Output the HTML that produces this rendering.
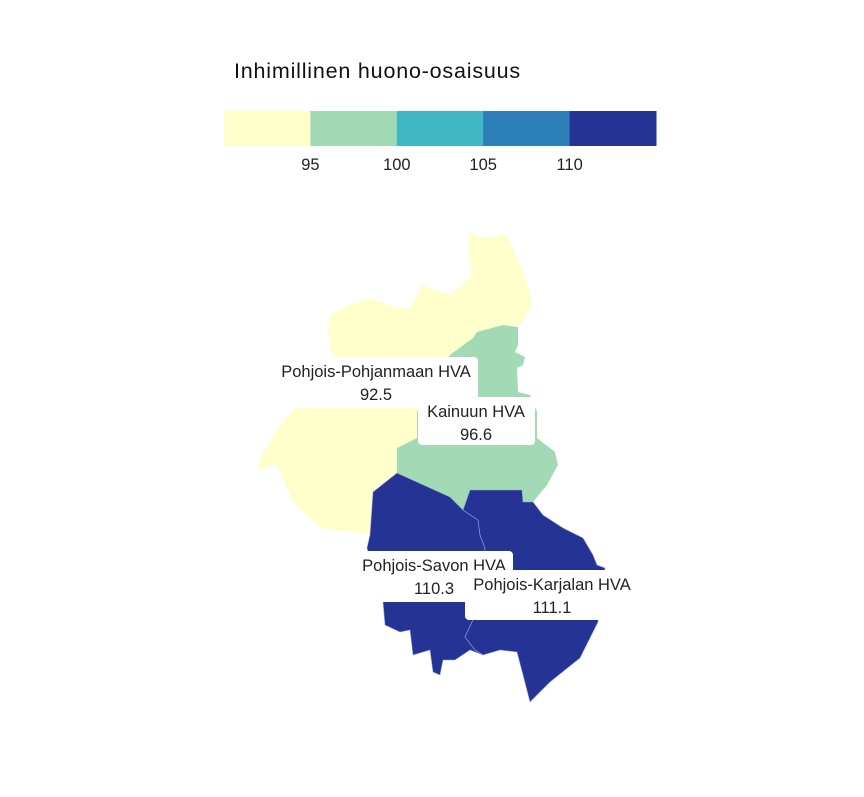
<!DOCTYPE html>
<html><head><meta charset="utf-8"><style>
body{margin:0;background:#fff;font-family:"Liberation Sans",sans-serif}
</style></head><body>
<svg width="864" height="792" viewBox="0 0 864 792">
<text x="234" y="78" font-size="21.5" letter-spacing="0.8" fill="#111">Inhimillinen huono-osaisuus</text>
<g id="legend"></g>
<g id="map"></g>
<g id="labels"></g>
</svg>
<script>
const breaks = [95, 100, 105, 110];
const colors = ["#ffffcc", "#a1dab4", "#41b6c4", "#2c7fb8", "#253494"];
const regionNames = ["Pohjois-Pohjanmaan HVA", "Kainuun HVA", "Pohjois-Savon HVA", "Pohjois-Karjalan HVA"];
const regionValues = [92.5, 96.6, 110.3, 111.1];

const NS = "http://www.w3.org/2000/svg";
function mk(t, a, p){const e=document.createElementNS(NS,t);for(const k in a)e.setAttribute(k,a[k]);p.appendChild(e);return e;}
function colorFor(v){let i=0;while(i<breaks.length&&v>=breaks[i])i++;return colors[i];}

// legend
const lg=document.getElementById('legend');
const lx0=224, lw=432, seg=lw/colors.length;
colors.forEach((c,i)=>{
  const r=mk('rect',{x:lx0+i*seg,y:111,width:seg+0.5,height:35,fill:c},lg);
  
  
});
breaks.forEach((b,i)=>{
  const t=mk('text',{x:lx0+(i+1)*seg,y:170,'font-size':16.5,'text-anchor':'middle',fill:'#222'},lg);
  t.textContent=b;
  
  
});

// shapes (geometry)
const shapes=[
 "M468,232 L483,238 L507,235 L517,258 L527,282 L532,305 L520,325 L503,325 L477,332 L473,338 L450,355 L417,412 L417,438 L397,448 L397,473 L373,492 L370,535 L360,533 L320,528 L293,502 L277,465 L257,470 L262,455 L270,442 L283,422 L295,408 L330,395 L333,355 L328,335 L330,315 L350,305 L370,298 L397,308 L410,308 L423,285 L450,295 L470,278 L472,265 L470,262 Z",
 "M473,338 L477,332 L503,325 L518,327 L518,345 L515,352 L525,357 L523,365 L517,368 L518,392 L530,395 L537,412 L537,438 L555,452 L558,465 L547,485 L533,502 L523,502 L522,490 L470,490 L463,510 L450,497 L397,473 L397,448 L417,438 L417,412 L450,355 Z",
 "M397,473 L450,497 L463,510 L478,520 L480,535 L485,548 L482,590 L472,622 L465,637 L475,650 L483,655 L470,650 L455,660 L443,660 L440,675 L433,672 L430,650 L413,655 L410,630 L400,632 L385,625 L383,602 L375,580 L367,548 L370,535 L373,492 Z",
 "M463,510 L470,490 L522,490 L523,502 L533,502 L543,515 L563,528 L583,538 L593,555 L597,565 L605,568 L600,600 L598,622 L580,658 L550,682 L530,702 L523,675 L517,652 L500,650 L483,655 L475,650 L465,637 L472,622 L482,590 L485,548 L480,535 L478,520 Z"
];
const mp=document.getElementById('map');
shapes.forEach((d,i)=>{
  const p=mk('path',{d:d,fill:colorFor(regionValues[i]),stroke:i>=2?'#9aa4d8':'none','stroke-width':0.6},mp);
  
  
});

// labels
const boxes=[[272,357,206,51,376],[418,397,117,48,476],[355,551,158,51,434],[465,570,175,50,552]];
const lb=document.getElementById('labels');
regionNames.forEach((n,i)=>{
  const b=boxes[i];
  const g=mk('g',{},lb);
  
  
  mk('rect',{x:b[0],y:b[1],width:b[2],height:b[3],rx:4,fill:'#fff'},g);
  const t1=mk('text',{x:b[4],y:b[1]+20,'font-size':16.5,'text-anchor':'middle',fill:'#222'},g);t1.textContent=n;
  const t2=mk('text',{x:b[4],y:b[1]+43,'font-size':16.5,'text-anchor':'middle',fill:'#222'},g);t2.textContent=regionValues[i].toFixed(1);
});
</script>
</body></html>
